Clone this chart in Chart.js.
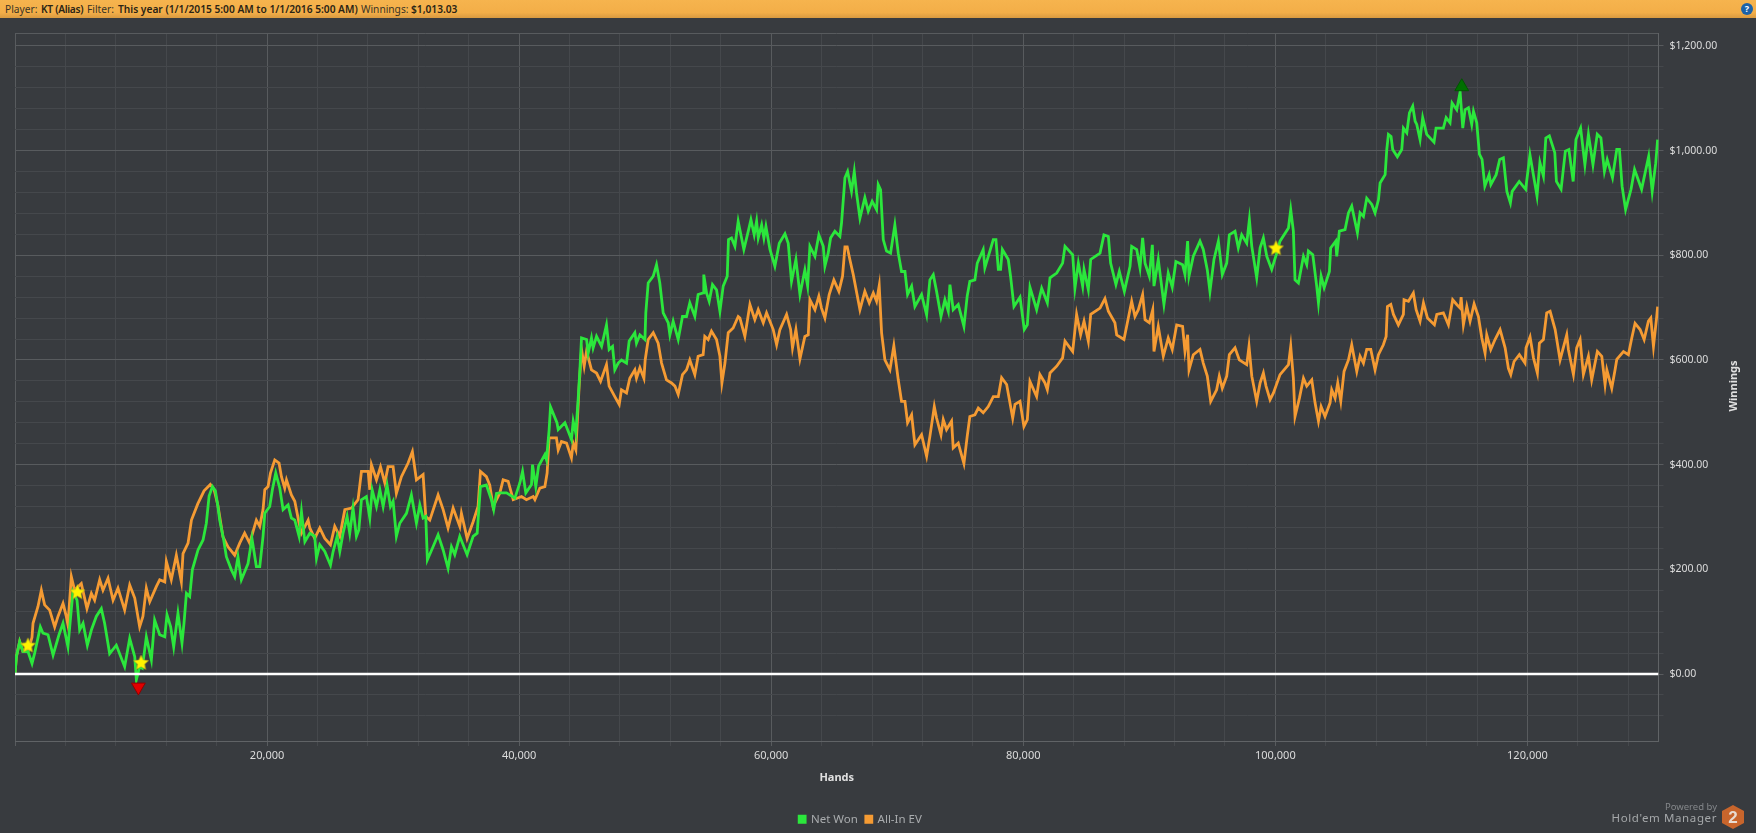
<!DOCTYPE html>
<html>
<head>
<meta charset="utf-8">
<title>Winnings graph</title>
<script src="https://cdn.jsdelivr.net/npm/chart.js@4"></script>
<style>
html, body { margin: 0; padding: 0; width: 1756px; height: 833px; overflow: hidden; background: #383b3f; font-family: "Noto Sans", sans-serif; }
#bar { position: absolute; left: 0; top: 0; width: 1756px; height: 18px; background: linear-gradient(#f6b44e, #f3ae48 70%, #d99a40); z-index: 2; }
#bar span { position: absolute; top: 1px; font-size: 10.2px; line-height: 16px; color: #3a3426; white-space: nowrap; }
#bar b { position: absolute; top: 1px; font-size: 10.2px; line-height: 16px; color: #2a2416; font-weight: 600; white-space: nowrap; }
#help { position: absolute; left: 1741px; top: 3px; width: 12px; height: 12px; border-radius: 50%; background: #1c62a8; color: #fff; font: bold 9px/12px "Noto Sans", sans-serif; text-align: center; z-index: 3; }
#chart { position: absolute; left: 0; top: 0; }
#ytitle { position: absolute; left: 1703px; top: 378px; width: 60px; text-align: center; transform: rotate(-90deg); color: #e0e0e0; font-size: 11px; font-weight: 700; line-height: 16px; }
#powered { position: absolute; right: 39px; top: 801px; color: #84878a; font-size: 9.5px; line-height: 12px; }
#brand { position: absolute; right: 39px; top: 810px; color: #a5a8aa; font-size: 11.5px; line-height: 16px; letter-spacing: 0.6px; }
#badge { position: absolute; left: 1722px; top: 805px; }
</style>
</head>
<body>
<canvas id="chart" width="1756" height="833"></canvas>
<div id="bar">
  <span style="left:5px">Player:</span><b style="left:41px;letter-spacing:-0.3px">KT (Alias)</b>
  <span style="left:87px">Filter:</span><b style="left:118px">This year (1/1/2015 5:00 AM to 1/1/2016 5:00 AM)</b>
  <span style="left:361px">Winnings:</span><b style="left:411px">$1,013.03</b>
</div>
<div id="help">?</div>
<div id="ytitle">Winnings</div>
<div id="powered">Powered by</div>
<div id="brand">Hold'em Manager</div>
<svg id="badge" width="22" height="24" viewBox="0 0 22 24">
  <polygon points="11,0 22,6 22,18 11,24 0,18 0,6" fill="#c8652c"/>
  <text x="11" y="18" text-anchor="middle" font-family="Liberation Sans" font-weight="700" font-size="17" fill="#e8dcd2">2</text>
</svg>
<script>
const netHands = [
  0,110,370,630,1030,1350,1560,2010,2220,2620,3020,3490,3810,4200,4390,4600,4920,5130,5400,5740,6060,6450,6850,7110,7510,8040,8700,9100,9500,9630,9890,10100,10420,10820,11080,11480,11880,12060,12350,12590,12930,13250,13410,13600,13860,14070,14520,14920,15180,15400,15670,15900,16100,
  16240,16560,16770,17170,17430,17690,17960,18490,18800,19150,19420,19680,19820,20210,20420,20690,21010,21270,21670,21930,22200,22540,22730,23000,23390,23780,23920,24180,24580,25030,25240,25560,25770,26030,26350,26560,26820,27090,27280,27490,27880,28150,28340,28680,28950,29210,29520,29790,30000,30260,30530,31060,31450,31850,32120,32380,32590,32720,33170,33570,33970,34360,34630,34890,35290,35870,36350,36670,36930,37400,37800,37980,38200,38470,
  39000,39660,40055,40270,40530,40980,41060,41320,41540,42040,42170,42380,42490,43000,43100,43630,44150,44290,44500,44680,44820,44950,45350,45480,45740,45870,46140,46540,46930,47140,47410,47590,47860,48120,48520,48730,49180,49310,49580,49980,50050,50240,50640,50900,51160,51430,51830,51960,52220,52620,52960,53280,53540,53940,54200,54600,54650,54870,55080,55340,55660,55930,56190,56510,56610,56850,57120,57380,
  57830,58180,58390,58650,58840,58970,59240,59420,59580,59900,60290,60640,61090,61350,61610,61960,62280,62670,62890,63070,63470,63780,64130,64260,64520,64710,65050,65450,65580,65850,66060,66370,66590,66770,67040,67430,67700,68010,68360,68490,68680,68890,69150,69470,69810,70080,70340,70610,70820,71140,71400,71930,72330,72590,72860,73120,73470,73780,74050,74180,74440,74840,75290,75550,75760,76160,76350,76820,76950,77350,77620,77830,78020,78200,78340,78810,78990,79260,79740,80080,80320,80530,81060,81460,81910,82120,82650,83120,83310,83920,84100,84370,84710,84820,85160,85350,86090,86400,86750,86930,87350,87620,88020,88470,88600,89000,89260,89470,89660,90000,90240,90370,90710,91160,91500,91820,92110,92640,92830,93040,93150,93490,94020,94280,94600,94810,95130,95480,95790,96140,96350,96800,97060,97330,97730,97940,
  98130,98520,98790,99050,99320,99710,100110,100370,101040,101220,101430,101560,101830,102230,102490,102620,102970,103280,103420,103630,103870,104290,104390,104790,104870,105080,105530,105800,106060,106510,106720,106990,107250,107650,107910,108180,108310,108710,108840,108970,109180,109310,109680,110030,110160,110430,110640,110900,111090,111220,111480,111690,112010,112590,112750,113330,113550,113860,114020,114390,114660,114870,115050,115320,115580,115720,115980,116190,116400,116620,116960,117100,117520,117800,118090,118370,118650,118790,119350,119860,120200,120760,120990,121270,121460,121740,122170,122300,122670,123010,123290,123630,123850,124220,124560,124840,125200,125540,125830,126110,126330,126750,127090,127300,127510,127790,128220,128500,129060,129620,129900,130180,130330
];
const netWon = [
  0,33,62,43,43,20,40,90,78,75,36,75,97,52,103,157,141,84,97,55,84,110,125,97,39,55,14,68,33,-11,14,11,71,27,103,75,71,113,90,52,116,59,97,154,148,199,237,256,288,340,358,350,320,
  294,256,224,199,186,224,180,211,259,205,205,263,307,320,352,384,355,314,323,298,294,263,310,253,269,263,221,247,234,208,234,263,234,269,301,269,317,263,275,333,339,298,352,320,352,320,361,320,330,263,288,307,342,288,323,298,301,218,243,266,237,202,243,228,263,228,263,269,358,361,333,314,345,346,
  346,336,365,387,346,362,400,358,397,419,409,467,510,480,467,480,448,483,460,524,581,642,639,613,642,623,645,626,667,620,626,581,594,600,594,636,652,632,648,639,690,747,760,782,747,690,671,648,674,639,683,683,709,683,725,728,763,728,712,744,734,693,741,760,830,833,817,865,
  811,846,868,839,865,833,858,833,855,811,779,823,841,823,750,792,725,772,741,817,798,839,817,779,804,833,846,836,862,948,960,922,960,919,871,910,884,903,887,935,925,830,808,804,858,804,769,769,725,741,702,725,686,753,763,731,683,715,693,744,696,706,664,722,750,753,785,811,776,808,830,830,773,773,811,792,760,702,720,658,667,739,696,737,709,757,766,785,817,801,737,785,741,773,734,792,804,839,836,785,744,769,731,779,817,811,776,833,785,760,820,741,792,706,766,739,788,782,763,827,760,798,827,811,772,731,792,827,763,785,839,846,814,839,823,868,
  817,757,814,833,798,773,804,827,852,887,846,753,747,798,782,808,801,741,709,760,738,769,814,827,798,846,849,881,894,843,881,874,909,897,881,906,938,954,1002,1031,1027,1002,988,1002,1043,1034,1072,1085,1056,1050,1021,1063,1031,1016,1043,1043,1063,1053,1091,1078,1112,1043,1078,1082,1050,1075,1053,993,983,932,954,935,954,983,986,922,900,922,941,926,992,913,977,951,1024,1028,996,941,926,999,1002,941,1021,1043,973,1031,973,1031,1024,960,983,948,1002,1002,932,887,926,964,926,989,922,976,1021
];
const evHands = [
  0,110,370,630,1030,1350,1430,1825,2090,2350,2750,3150,3410,3810,4070,4200,4470,4730,5260,5710,6060,6320,6720,6980,7380,7780,8170,8700,9100,9500,9890,10150,10420,10690,11210,11480,11880,12010,12400,12800,13200,13330,13730,14000,14500,15000,15500,15800,16100,
  16500,16900,17430,17830,18220,18620,19150,19420,19680,19820,20080,20270,20610,20950,21140,21400,21540,21930,22200,22540,22730,23260,23390,23780,24180,24580,25030,25370,25770,26170,26700,27220,27490,28020,28150,28280,28680,29000,29340,29600,30000,30260,30660,31190,31530,31850,32380,32590,32910,33570,33970,34360,34760,35290,35420,35870,36350,36740,36930,37400,37670,37930,38470,
  38730,39130,39530,40190,40580,41110,41250,41640,42040,42220,42380,42960,43100,43360,43760,44150,44290,44500,44760,44950,45160,45350,45740,46140,46460,46930,47140,47590,47940,48120,48520,48780,49180,49310,49580,49900,50000,50240,50640,51030,51300,51690,52090,52360,52620,52960,53280,53540,53940,54200,54600,54730,55000,55260,55660,55930,56090,56330,56590,56980,57380,
  57515,57910,58310,58700,58970,59370,59630,60160,60430,60690,61220,61540,61690,61960,62280,62670,62940,63070,63470,63780,63990,64260,64600,64970,65370,65660,65850,66030,66240,66510,67040,67430,67780,68100,68360,68570,68760,69020,69420,69730,70080,70340,70610,70820,71140,71400,71930,72330,72590,72940,73120,73470,73650,73910,74310,74440,74840,75290,75550,75760,76160,76430,76820,77220,77620,78020,78280,78680,79160,79340,79740,80050,80320,80530,81060,81320,81720,81910,82120,82650,83120,83310,83920,84230,84550,84820,85160,85350,86090,86480,86750,87270,87410,87990,88600,88860,89130,89470,89660,90000,90270,90370,90710,91110,91500,91820,92170,92640,92830,93040,93150,93490,94020,94280,94600,94870,95340,95550,95790,96140,96350,96800,97140,97730,97910,
  98130,98520,98790,99050,99260,99580,99850,100370,101040,101220,101430,101560,101910,102230,102490,102890,103150,103420,103630,103940,104340,104470,104740,104950,105190,105450,105800,106060,106460,106720,106990,107250,107570,107910,108180,108570,108790,108890,109160,109370,109760,110160,110210,110560,110950,111170,111480,111750,112070,112620,112810,113330,113730,114070,114390,114660,114740,114920,115190,115450,115770,116110,116380,116640,116770,117090,117430,117830,118230,118490,118680,118940,119360,119810,119890,120210,120480,120790,120950,121270,121530,121800,122200,122590,123120,123250,123650,123910,124180,124440,124840,125100,125550,125900,126160,126300,126690,126950,127090,127620,128010,128280,128540,128940,129260,129600,129790,130000,130260,130330
];
const allInEv = [
  0,33,62,43,43,70,97,129,160,132,122,90,110,135,110,94,186,160,173,125,154,141,180,160,183,141,164,122,170,145,90,110,164,138,167,180,176,215,180,227,176,230,250,294,325,350,362,352,322,
  262,243,227,250,269,250,294,282,314,352,358,384,409,403,377,355,371,342,330,288,269,294,279,259,279,259,247,282,263,314,317,333,387,387,352,400,371,396,365,396,396,345,377,403,425,371,381,301,294,342,314,279,317,282,307,259,291,320,387,377,361,320,346,
  371,368,333,339,333,339,333,355,358,384,451,451,428,444,441,413,441,428,550,620,588,617,581,575,559,591,550,530,515,543,537,565,581,565,585,565,600,639,652,632,594,562,556,550,534,572,581,600,572,607,610,645,639,655,639,607,556,594,652,661,683,
  680,645,706,677,696,671,690,658,629,658,687,658,623,658,602,645,648,715,696,722,699,680,725,753,731,760,816,816,792,763,696,731,709,728,712,742,651,600,581,627,562,521,521,480,495,438,457,416,454,511,489,457,486,467,483,432,441,402,454,492,495,508,499,511,530,530,566,553,489,515,521,473,486,559,530,572,556,543,575,588,604,636,616,687,648,674,636,687,699,717,693,671,648,639,712,683,696,725,677,671,696,616,664,607,642,620,667,664,616,648,581,610,620,594,569,521,543,569,546,569,610,623,600,591,626,
  569,521,556,575,550,524,537,572,591,626,565,492,527,565,550,562,518,483,511,492,518,543,527,556,521,578,600,629,578,607,594,620,620,581,610,629,645,702,706,687,667,687,715,712,728,696,674,709,680,667,687,690,667,715,706,699,720,667,702,674,707,683,642,613,648,620,639,658,623,584,572,597,610,594,623,644,604,575,632,639,690,693,658,600,648,620,572,623,639,572,607,562,616,607,553,581,546,581,601,616,610,642,670,658,639,674,680,626,683,702
];
const starHands = [1030, 4950, 10000, 100050];
const starValues = [55, 157, 22, 814];
const lowHands = [9790];
const lowValues = [-25];
const highHands = [114790];
const highValues = [1122];
const xMax = 130400;
const yMin = -128;
const yMax = 1224.6;

function toPoints(xs, ys) {
    return xs.map((x, i) => ({ x: x, y: ys[i] }));
}

// pointStyle canvas for the five pointed stars
function makeStar() {
    const c = document.createElement('canvas');
    c.width = 17;
    c.height = 17;
    const g = c.getContext('2d');
    g.beginPath();
    for (let i = 0; i < 10; i++) {
        const r = i % 2 === 0 ? 8 : 3.8;
        const a = -Math.PI / 2 + i * Math.PI / 5;
        g.lineTo(8.5 + r * Math.cos(a), 9 + r * Math.sin(a));
    }
    g.closePath();
    g.fillStyle = '#fff200';
    g.fill();
    g.strokeStyle = '#a89a20';
    g.lineWidth = 0.5;
    g.stroke();
    return c;
}

const lineStyle = { pointRadius: 0, pointHoverRadius: 0, tension: 0, fill: false, borderWidth: 2.8, borderJoinStyle: 'miter' };

new Chart(document.getElementById('chart'), {
    type: 'line',
    data: {
        datasets: [
            { label: 'star', data: toPoints(starHands, starValues), showLine: false, pointStyle: makeStar(), pointRadius: 8 },
            { label: 'low', data: toPoints(lowHands, lowValues), showLine: false, pointStyle: 'triangle', rotation: 180, pointRadius: 8, backgroundColor: '#e00000', borderColor: '#8e0000', borderWidth: 1 },
            { label: 'high', data: toPoints(highHands, highValues), showLine: false, pointStyle: 'triangle', pointRadius: 8, backgroundColor: '#006f00', borderColor: '#005400', borderWidth: 1 },
            { label: 'zero', data: toPoints([0, xMax], [0, 0]), borderColor: '#ffffff', borderWidth: 2.4, pointRadius: 0 },
            { label: 'Net Won', data: toPoints(netHands, netWon), borderColor: '#2be73c', backgroundColor: '#2be73c', ...lineStyle },
            { label: 'All-In EV', data: toPoints(evHands, allInEv), borderColor: '#f59b33', backgroundColor: '#f59b33', ...lineStyle }
        ]
    },
    options: {
        responsive: false,
        animation: false,
        devicePixelRatio: 1,
        layout: { padding: { left: 15, top: 33, right: 0, bottom: 0 } },
        plugins: {
            tooltip: { enabled: false },
            legend: {
                position: 'bottom',
                labels: {
                    color: '#a9acae',
                    font: { family: 'Noto Sans', size: 11.5 },
                    boxWidth: 6,
                    boxHeight: 6,
                    padding: 8,
                    filter: item => item.text === 'Net Won' || item.text === 'All-In EV'
                }
            }
        },
        scales: {
            x: {
                type: 'linear',
                min: 0,
                max: xMax,
                afterFit: s => { s.height = 62.5; },
                // every 4,000 hands; the stepSize option would stretch the step to fit the max
                afterBuildTicks: s => {
                    s.ticks = [];
                    for (let v = 0; v <= xMax; v += 4000) s.ticks.push({ value: v });
                },
                ticks: {
                    maxRotation: 0,
                    autoSkip: false,
                    color: '#dcdcdc',
                    font: { family: 'Noto Sans', size: 11 },
                    padding: 3,
                    callback: v => (v > 0 && v % 20000 === 0 ? v.toLocaleString('en-US') : '')
                },
                grid: {
                    color: c => (c.tick && c.tick.value % 20000 === 0 ? '#585b5e' : '#45484c'),
                    tickColor: c => (c.tick && c.tick.value % 20000 === 0 ? '#585b5e' : '#45484c'),
                    tickLength: 5
                },
                border: { color: '#606366' },
                title: {
                    display: true,
                    text: 'Hands',
                    color: '#e0e0e0',
                    font: { family: 'Noto Sans', size: 11, weight: 'bold' },
                    padding: { top: 0, bottom: 19 }
                }
            },
            y: {
                type: 'linear',
                position: 'right',
                min: yMin,
                max: yMax,
                afterFit: s => { s.width = 97.5; },
                afterBuildTicks: s => { s.ticks = s.ticks.filter(t => t.value === yMax || (t.value % 40 === 0 && t.value >= -80)); },
                ticks: {
                    stepSize: 40,
                    autoSkip: false,
                    color: '#dcdcdc',
                    font: { family: 'Noto Sans', size: 10.5 },
                    padding: 6,
                    callback: v => (v % 200 === 0 ? '$' + v.toLocaleString('en-US', { minimumFractionDigits: 2, maximumFractionDigits: 2 }) : '')
                },
                grid: {
                    color: c => (c.tick && (c.tick.value % 200 === 0 || c.tick.value === yMax) ? '#585b5e' : '#45484c'),
                    tickColor: c => (c.tick && c.tick.value === yMax ? 'transparent' : c.tick && c.tick.value % 200 === 0 ? '#585b5e' : '#45484c'),
                    tickLength: 5
                },
                border: { color: '#606366' }
            }
        }
    },
    plugins: [{
        id: 'legendShift',
        afterLayout(chart) {
            chart.legend.left -= 25;
            chart.legend.right -= 25;
            chart.legend.top += 2;
            chart.legend.bottom += 2;
        }
    }]
});
</script>
</body>
</html>
